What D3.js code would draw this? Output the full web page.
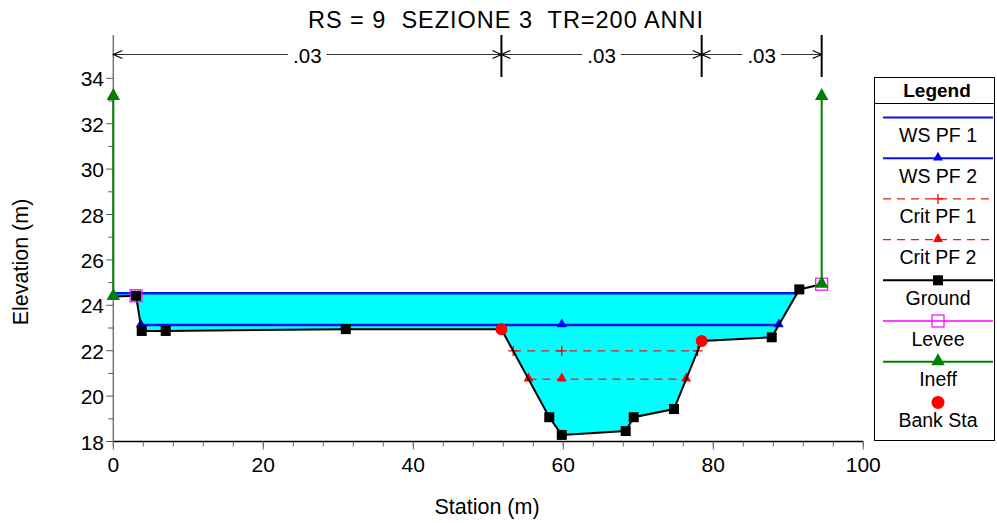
<!DOCTYPE html>
<html><head><meta charset="utf-8">
<script src="https://cdn.jsdelivr.net/npm/d3@7"></script>
<style>body{margin:0;background:#fff}text{font-family:"Liberation Sans",Arial,sans-serif}</style>
</head><body>
<svg id="c" width="997" height="523"></svg>
<script>
// ---- data ----
const groundStation = [0, 3.03, 3.79, 6.99, 31.0, 51.75, 58.13, 59.8, 68.32, 69.39, 74.76, 78.45, 87.79, 91.47, 94.45];
const groundElev    = [24.39, 24.42, 22.87, 22.87, 22.95, 22.94, 19.07, 18.29, 18.46, 19.07, 19.43, 22.43, 22.59, 24.70, 24.93];
const groundMarkers = [false, true, true, true, true, false, true, true, true, true, true, false, true, true, false];
const wsPF1 = 24.53;
const wsPF2 = 23.13;
const critPF1 = 21.99;
const critPF2 = 20.75;
const leveeStation = [3.03, 94.45];
const leveeElev = [24.42, 24.93];
const ineffStation = [0, 94.45];
const ineffTop = [33.2, 33.2];
const ineffBottom = [24.39, 24.93];
const bankStation = [51.75, 78.45];
const bankElev = [22.94, 22.43];
const nValues = [".03", ".03", ".03"];
const nBreaks = [0, 51.75, 78.45, 94.45];
const xTicks = [0, 20, 40, 60, 80, 100];
const yTicks = [18, 20, 22, 24, 26, 28, 30, 32, 34];
const legendLabels = ["WS PF 1", "WS PF 2", "Crit PF 1", "Crit PF 2", "Ground", "Levee", "Ineff", "Bank Sta"];
const title = "RS = 9  SEZIONE 3  TR=200 ANNI";

const svg = d3.select("#c");
const x = d3.scaleLinear().domain([0, 100]).range([113.3, 863.3]);
const y = d3.scaleLinear().domain([18, 34]).range([441.5, 78.3]);
const ground = groundStation.map((s, i) => ({s, e: groundElev[i], m: groundMarkers[i]}));
const invert = ground.reduce((a, b) => b.e < a.e ? b : a);

// intersections of a level with the ground around the invert
function extent(level) {
  const k = ground.indexOf(invert);
  let left = ground[0].s, right = ground[ground.length - 1].s;
  for (let i = k; i > 0; i--) {
    const a = ground[i - 1], b = ground[i];
    if (a.e >= level) { left = a.s + (b.s - a.s) * (a.e - level) / (a.e - b.e); break; }
  }
  for (let i = k; i < ground.length - 1; i++) {
    const a = ground[i], b = ground[i + 1];
    if (b.e >= level) { right = a.s + (b.s - a.s) * (level - a.e) / (b.e - a.e); break; }
  }
  return [left, right];
}

// title
svg.append("text").attr("x", 505.5).attr("y", 28.3).attr("text-anchor", "middle")
  .attr("font-size", 23.5).attr("textLength", 395).attr("lengthAdjust", "spacing")
  .style("white-space", "pre").text(title);

// water fill
const [wl, wr] = extent(wsPF1);
const poly = [[wl, wsPF1], [wr, wsPF1]];
ground.filter(g => g.s > wl && g.s < wr).reverse().forEach(g => poly.push([g.s, g.e]));
poly.push([wl, ground[0].s === wl ? ground[0].e : wsPF1]);
svg.append("path").attr("d", d3.line().x(d => x(d[0])).y(d => y(d[1]))(poly) + "Z")
  .attr("fill", "#00ffff");

// axes
const gx = svg.append("g").attr("transform", `translate(0,${y(18)})`);
gx.append("line").attr("x1", x(0)).attr("x2", x(100)).attr("stroke", "#000").attr("stroke-width", 1.5);
d3.range(0, 101, 4).forEach(v => {
  gx.append("line").attr("x1", x(v)).attr("x2", x(v)).attr("y1", 0).attr("y2", 5).attr("stroke", "#666");
});
xTicks.forEach(v => {
  gx.append("line").attr("x1", x(v)).attr("x2", x(v)).attr("y1", 0).attr("y2", 8).attr("stroke", "#666");
  gx.append("text").attr("x", x(v)).attr("y", 30.5).attr("text-anchor", "middle").attr("font-size", 21).text(v);
});
const gy = svg.append("g");
gy.append("line").attr("x1", x(0)).attr("x2", x(0)).attr("y1", y(18)).attr("y2", 35).attr("stroke", "#777").attr("stroke-width", 1.5);
d3.range(19, 35, 2).forEach(v => {
  gy.append("line").attr("x1", x(0) - 5).attr("x2", x(0)).attr("y1", y(v)).attr("y2", y(v)).attr("stroke", "#555");
});
yTicks.forEach(v => {
  gy.append("line").attr("x1", x(0) - 7).attr("x2", x(0)).attr("y1", y(v)).attr("y2", y(v)).attr("stroke", "#555");
  gy.append("text").attr("x", 104).attr("y", y(v) + 8).attr("text-anchor", "end").attr("font-size", 21).text(v);
});
svg.append("text").attr("x", 487).attr("y", 514).attr("text-anchor", "middle").attr("font-size", 21.5).text("Station (m)");
svg.append("text").attr("transform", "translate(28,262) rotate(-90)").attr("text-anchor", "middle").attr("font-size", 21.5).text("Elevation (m)");

// Manning's n bracket
const by = 54.5;
nValues.forEach((n, i) => {
  const x0 = x(nBreaks[i]), x1 = x(nBreaks[i + 1]), cx = (x0 + x1) / 2;
  const t = svg.append("text").attr("x", cx).attr("y", 63).attr("text-anchor", "middle").attr("font-size", 20.5).text(n);
  const w = t.node().getComputedTextLength() / 2 + 5;
  svg.append("line").attr("x1", x0).attr("x2", cx - w).attr("y1", by).attr("y2", by).attr("stroke", "#333");
  svg.append("line").attr("x1", cx + w).attr("x2", x1).attr("y1", by).attr("y2", by).attr("stroke", "#333");
  [[x0, 1], [x1, -1]].forEach(([ax, d]) => {
    svg.append("path").attr("d", `M${ax + d * 9},${by - 4}L${ax},${by}L${ax + d * 9},${by + 4}`)
      .attr("fill", "none").attr("stroke", "#000").attr("stroke-width", 1.2);
  });
});
nBreaks.slice(1).forEach(s => {
  svg.append("line").attr("x1", x(s)).attr("x2", x(s)).attr("y1", 35).attr("y2", 77).attr("stroke", "#000").attr("stroke-width", 2);
});

// symbols
const tri = (g, cx, cy, col, sz) => g.append("path").attr("d", `M${cx},${cy - sz}L${cx + sz * 0.9},${cy + sz * 0.6}L${cx - sz * 0.9},${cy + sz * 0.6}Z`).attr("fill", col);
const sq = (g, cx, cy) => g.append("rect").attr("x", cx - 5).attr("y", cy - 5).attr("width", 10).attr("height", 10).attr("fill", "#000");
const plus = (g, cx, cy) => g.append("path").attr("d", `M${cx - 5},${cy}H${cx + 5}M${cx},${cy - 5}V${cy + 5}`).attr("stroke", "#f00").attr("stroke-width", 1.3);

// crit lines
[[critPF1, "plus"], [critPF2, "tri"]].forEach(([lev, m]) => {
  const [l, r] = extent(lev);
  svg.append("line").attr("x1", x(l)).attr("x2", x(r)).attr("y1", y(lev)).attr("y2", y(lev))
    .attr("stroke", "#e02020").attr("stroke-width", 1.2).attr("stroke-dasharray", "8,6");
  [l, invert.s, r].forEach(s => m === "plus" ? plus(svg, x(s), y(lev)) : tri(svg, x(s), y(lev) - 1, "#f00", 5.5));
});

// WS lines
[wsPF1, wsPF2].forEach((lev, i) => {
  const [l, r] = extent(lev);
  svg.append("line").attr("x1", x(l)).attr("x2", x(r)).attr("y1", y(lev)).attr("y2", y(lev))
    .attr("stroke", "#1010f0").attr("stroke-width", 2.5);
  if (i === 1) [l, invert.s, r].forEach(s => tri(svg, x(s), y(lev) - 1, "#00f", 5.5));
});

// ground
svg.append("path").attr("d", d3.line().x(d => x(d.s)).y(d => y(d.e))(ground))
  .attr("fill", "none").attr("stroke", "#000").attr("stroke-width", 2);
ground.filter(g => g.m).forEach(g => sq(svg, x(g.s), y(g.e)));

// ineff
ineffStation.forEach((s, i) => {
  svg.append("line").attr("x1", x(s)).attr("x2", x(s)).attr("y1", y(ineffTop[i])).attr("y2", y(ineffBottom[i]))
    .attr("stroke", "#008000").attr("stroke-width", 2);
});
// levee
leveeStation.forEach((s, i) => {
  svg.append("rect").attr("x", x(s) - 6).attr("y", y(leveeElev[i]) - 6).attr("width", 12).attr("height", 12)
    .attr("fill", "none").attr("stroke", "#ff00ff").attr("stroke-width", 1.2);
});
ineffStation.forEach((s, i) => {
  tri(svg, x(s), y(ineffTop[i]) - 1, "#008000", 7.5);
  tri(svg, x(s), y(ineffBottom[i]) - 1, "#008000", 7.5);
});
// bank stations
bankStation.forEach((s, i) => {
  svg.append("circle").attr("cx", x(s)).attr("cy", y(bankElev[i])).attr("r", 6).attr("fill", "#f00");
});

// legend
const L = svg.append("g");
L.append("rect").attr("x", 874.5).attr("y", 77.5).attr("width", 120).attr("height", 363).attr("fill", "#fff").attr("stroke", "#000");
L.append("line").attr("x1", 874.5).attr("x2", 994.5).attr("y1", 103.5).attr("y2", 103.5).attr("stroke", "#000");
L.append("text").attr("x", 937).attr("y", 97).attr("text-anchor", "middle").attr("font-size", 19).attr("font-weight", "bold").text("Legend");
const lx0 = 883, lx1 = 993, cxL = 938;
legendLabels.forEach((lab, i) => {
  const ly = 117.5 + i * 40.7;
  L.append("text").attr("x", cxL).attr("y", ly + 24.5).attr("text-anchor", "middle").attr("font-size", 19.5).text(lab);
  if (i === 0 || i === 1) L.append("line").attr("x1", lx0).attr("x2", lx1).attr("y1", ly).attr("y2", ly).attr("stroke", "#1010f0").attr("stroke-width", 2);
  if (i === 1) tri(L, cxL, ly - 1, "#00f", 5.5);
  if (i === 2 || i === 3) L.append("line").attr("x1", lx0).attr("x2", lx1).attr("y1", ly).attr("y2", ly).attr("stroke", "#e02020").attr("stroke-width", 1.2).attr("stroke-dasharray", "8,6");
  if (i === 2) plus(L, cxL, ly);
  if (i === 3) tri(L, cxL, ly - 1, "#f00", 5.5);
  if (i === 4) { L.append("line").attr("x1", lx0).attr("x2", lx1).attr("y1", ly).attr("y2", ly).attr("stroke", "#000").attr("stroke-width", 2); sq(L, cxL, ly); }
  if (i === 5) { L.append("line").attr("x1", lx0).attr("x2", lx1).attr("y1", ly).attr("y2", ly).attr("stroke", "#ff00ff").attr("stroke-width", 1.5);
    L.append("rect").attr("x", cxL - 6).attr("y", ly - 6).attr("width", 12).attr("height", 12).attr("fill", "none").attr("stroke", "#ff00ff").attr("stroke-width", 1.2); }
  if (i === 6) { L.append("line").attr("x1", lx0).attr("x2", lx1).attr("y1", ly).attr("y2", ly).attr("stroke", "#008000").attr("stroke-width", 2); tri(L, cxL, ly - 1, "#008000", 7.5); }
  if (i === 7) L.append("circle").attr("cx", cxL).attr("cy", ly).attr("r", 6.5).attr("fill", "#f00");
});
</script>
</body></html>
